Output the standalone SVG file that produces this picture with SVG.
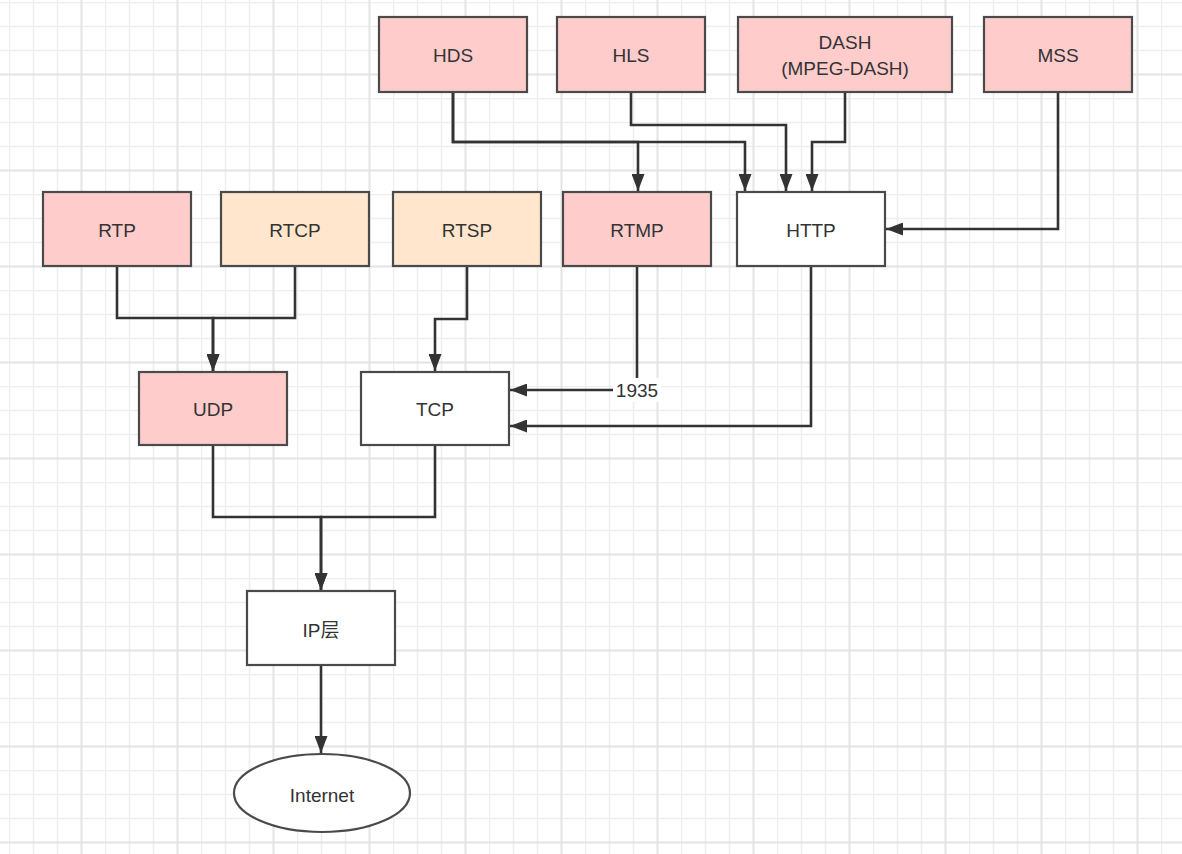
<svg xmlns="http://www.w3.org/2000/svg" width="1182" height="854" viewBox="0 0 1182 854">
<style>
.n{stroke:#4a4a4a;stroke-width:2.2}
.pink{fill:#ffcccc}
.peach{fill:#ffe6cc}
.white{fill:#ffffff}
.t{font-family:"Liberation Sans",Arial,sans-serif;font-size:19px;fill:#333;text-anchor:middle;dominant-baseline:central}
.c{fill:none;stroke:#333;stroke-width:2.6;stroke-linejoin:miter}
</style>
<defs>
<pattern id="grid" patternUnits="userSpaceOnUse" x="9" y="2" width="96" height="96">
<path d="M0.5 0V96M24.5 0V96M48.5 0V96M0 0.5H96M0 24.5H96M0 48.5H96" stroke="#eeeeee" stroke-width="1.6" fill="none"/>
<path d="M72.5 0V96M0 72.5H96" stroke="#e4e4e4" stroke-width="2" fill="none"/>
</pattern>
<marker id="a" viewBox="0 0 17 13" refX="17" refY="6.5" markerWidth="17" markerHeight="13" markerUnits="userSpaceOnUse" orient="auto">
<path d="M0 0L17 6.5L0 13Z" fill="#333"/>
</marker>
</defs>
<rect width="1182" height="854" fill="#ffffff"/>
<rect width="1182" height="854" fill="url(#grid)"/>
<g id="connectors">
<path class="c" d="M453 93V142H638V191" marker-end="url(#a)"/>
<path class="c" d="M453 93V142H745V191" marker-end="url(#a)"/>
<path class="c" d="M631 93V125H786V191" marker-end="url(#a)"/>
<path class="c" d="M845 93V142H812V191" marker-end="url(#a)"/>
<path class="c" d="M1058 93V229H886" marker-end="url(#a)"/>
<path class="c" d="M117 266V318H213V371" marker-end="url(#a)"/>
<path class="c" d="M295 266V318H213V371" marker-end="url(#a)"/>
<path class="c" d="M467 266V319H435V371" marker-end="url(#a)"/>
<path class="c" d="M637 266V390H510" marker-end="url(#a)"/>
<path class="c" d="M811 266V426H510" marker-end="url(#a)"/>
<path class="c" d="M213 446V517H321V590" marker-end="url(#a)"/>
<path class="c" d="M435 446V517H321V590" marker-end="url(#a)"/>
<path class="c" d="M321 666V753" marker-end="url(#a)"/>
<rect x="613" y="378" width="48" height="24" fill="#ffffff"/>
<text class="t" x="637" y="390">1935</text>
</g>
<g id="HDS"><rect class="n pink" x="379" y="17" width="148" height="75"/><text class="t" x="453" y="55">HDS</text></g>
<g id="HLS"><rect class="n pink" x="557" y="17" width="148" height="75"/><text class="t" x="631" y="55">HLS</text></g>
<g id="DASH"><rect class="n pink" x="738" y="17" width="214" height="75"/><text class="t" x="845" y="42">DASH</text><text class="t" x="845" y="68">(MPEG-DASH)</text></g>
<g id="MSS"><rect class="n pink" x="984" y="17" width="148" height="75"/><text class="t" x="1058" y="55">MSS</text></g>
<g id="RTP"><rect class="n pink" x="43" y="192" width="148" height="74"/><text class="t" x="117" y="230">RTP</text></g>
<g id="RTCP"><rect class="n peach" x="221" y="192" width="148" height="74"/><text class="t" x="295" y="230">RTCP</text></g>
<g id="RTSP"><rect class="n peach" x="393" y="192" width="148" height="74"/><text class="t" x="467" y="230">RTSP</text></g>
<g id="RTMP"><rect class="n pink" x="563" y="192" width="148" height="74"/><text class="t" x="637" y="230">RTMP</text></g>
<g id="HTTP"><rect class="n white" x="737" y="192" width="148" height="74"/><text class="t" x="811" y="230">HTTP</text></g>
<g id="UDP"><rect class="n pink" x="139" y="372" width="148" height="73"/><text class="t" x="213" y="409">UDP</text></g>
<g id="TCP"><rect class="n white" x="361" y="372" width="148" height="73"/><text class="t" x="435" y="409">TCP</text></g>
<g id="IP"><rect class="n white" x="247" y="591" width="148" height="74"/><text class="t" x="321" y="630" style="font-family:'Liberation Sans','Noto Sans CJK SC',sans-serif">IP层</text></g>
<g id="Internet"><ellipse class="n white" cx="322" cy="793" rx="88" ry="39"/><text class="t" x="322" y="795">Internet</text></g>
</svg>
